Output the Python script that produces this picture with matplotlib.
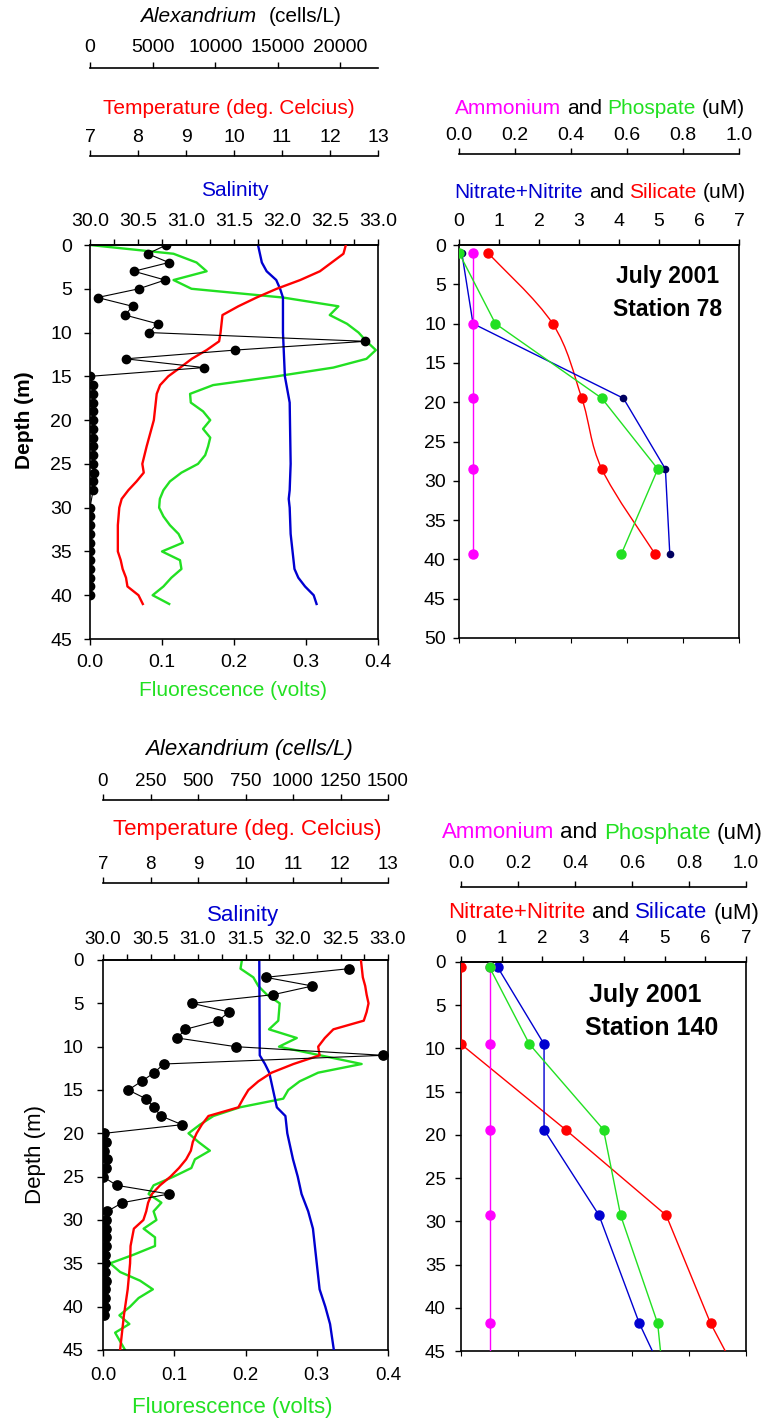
import matplotlib
matplotlib.use("Agg")
import matplotlib.pyplot as plt
import numpy as np
from matplotlib.ticker import AutoMinorLocator, FormatStrFormatter
from matplotlib.offsetbox import TextArea, HPacker, AnnotationBbox
from matplotlib.path import Path
from matplotlib.patches import PathPatch

plt.rcParams['font.family'] = ['Liberation Sans', 'DejaVu Sans']
plt.rcParams['axes.linewidth'] = 1.2

RED = '#ff0000'
GREEN = '#22e022'
BLUE = '#0000d0'
MAGENTA = '#ff00ff'
NAVY = '#000060'

# ---- July 2001, Station 78: CTD profile ----
alex78_depth = list(range(0, 29)) + list(range(30, 41))
alex78 = [6100, 4600, 6300, 3500, 6000, 3900, 600, 3400, 2800, 5400,
          4700, 22000, 11600, 2850, 9100, 0, 200, 200, 200, 250,
          200, 250, 200, 250, 200, 250, 300, 250, 250,
          0, 0, 0, 0, 0, 0, 0, 0, 0, 0, 0]

temp78_depth = [0, 1, 3, 4, 5, 6, 7, 8, 9, 10, 11, 12, 13, 14, 15, 16, 17, 20,
                23, 25, 26, 27, 28, 29, 30, 32, 35, 36, 37, 38, 39, 40, 41]
temp78 = [12.33, 12.28, 11.79, 11.38, 10.89, 10.47, 10.09, 9.76, 9.74, 9.72,
          9.69, 9.43, 9.12, 8.88, 8.63, 8.46, 8.39, 8.33, 8.18, 8.09, 8.12,
          7.97, 7.80, 7.66, 7.61, 7.58, 7.58, 7.64, 7.68, 7.75, 7.78, 8.01, 8.10]

fluor78_depth = list(range(0, 42))
fluor78 = [0.0, 0.116, 0.148, 0.162, 0.116, 0.141, 0.268, 0.345, 0.333, 0.357,
           0.373, 0.384, 0.397, 0.384, 0.338, 0.259, 0.171, 0.139, 0.140, 0.157,
           0.167, 0.157, 0.167, 0.164, 0.160, 0.150, 0.127, 0.111, 0.102, 0.097,
           0.096, 0.102, 0.111, 0.123, 0.129, 0.100, 0.125, 0.127, 0.113, 0.102,
           0.087, 0.110]

sal78_depth = [0, 2, 3, 4, 5, 6, 10, 15, 18, 25, 28, 29, 30, 33, 36, 37, 38, 39, 40, 41]
sal78 = [31.75, 31.79, 31.84, 31.94, 31.98, 32.01, 32.01, 32.03, 32.08, 32.09,
         32.08, 32.07, 32.08, 32.09, 32.12, 32.13, 32.17, 32.24, 32.33, 32.36]

# ---- July 2001, Station 78: nutrients ----
nut78_depth = [1, 10, 19.5, 28.5, 39.3]
ammonium78 = [0.05, 0.05, 0.05, 0.05, 0.05]
phosphate78 = [0.0, 0.13, 0.51, 0.71, 0.58]
nitrate78 = [0.07, 0.35, 4.11, 5.16, 5.27]
silicate78 = [0.72, 2.34, 3.07, 3.57, 4.90]

# ---- July 2001, Station 140: CTD profile ----
alex140_depth = list(range(1, 42))
alex140 = [1295, 856, 1102, 896, 470, 663, 607, 433, 391, 698,
           1475, 319, 270, 203, 133, 225, 268, 305, 416, 7,
           16, 5, 23, 16, 0, 72, 347, 102, 23,
           15, 15, 15, 15, 10, 10, 10, 15, 10, 10, 10, 5]

temp140_depth = [0, 1, 2, 3, 4, 5, 6, 7, 8, 9, 10, 11, 12, 13, 14, 15, 16, 17, 18,
                 19, 20, 21, 22, 23, 24, 25, 26, 27, 28, 29, 30, 31, 33, 35, 38, 41, 45]
temp140 = [12.43, 12.45, 12.47, 12.52, 12.55, 12.59, 12.55, 12.49, 11.85, 11.67,
           11.53, 11.56, 11.01, 10.55, 10.27, 10.06, 9.95, 9.85, 9.22, 9.08,
           8.97, 8.89, 8.85, 8.75, 8.60, 8.42, 8.20, 8.03, 7.95, 7.91, 7.85,
           7.65, 7.58, 7.57, 7.52, 7.44, 7.36]

fluor140_depth = list(range(0, 46))
fluor140 = [0.195, 0.193, 0.211, 0.218, 0.230, 0.248, 0.247, 0.246, 0.233, 0.272,
            0.247, 0.305, 0.363, 0.302, 0.276, 0.260, 0.253, 0.192, 0.155, 0.136,
            0.120, 0.134, 0.150, 0.129, 0.124, 0.099, 0.071, 0.064, 0.082, 0.071,
            0.075, 0.057, 0.073, 0.073, 0.043, 0.010, 0.024, 0.052, 0.070, 0.050,
            0.038, 0.023, 0.037, 0.017, 0.024, 0.031]

sal140_depth = [0, 11, 12, 13, 15, 17, 18, 20, 23, 25, 27, 29, 31, 33, 35, 37, 38, 40, 42, 45]
sal140 = [31.645, 31.65, 31.705, 31.75, 31.79, 31.83, 31.92, 31.94, 32.00, 32.05,
          32.09, 32.16, 32.21, 32.23, 32.25, 32.27, 32.28, 32.34, 32.39, 32.43]

# ---- July 2001, Station 140: nutrients (last entry = where lines leave the plot) ----
nut140_depth = [0.6, 9.5, 19.4, 29.3, 41.8, 45]
ammonium140 = [0.10, 0.10, 0.10, 0.10, 0.10, 0.10]
phosphate140 = [0.10, 0.24, 0.50, 0.56, 0.69, 0.70]
nitrate140 = [0.0, 0.0, 2.57, 5.04, 6.13, 6.49]
silicate140 = [0.90, 2.04, 2.04, 3.39, 4.38, 4.70]
n_sampled140 = 5

W, H = 762, 1418


def fx(px):
    return px / W


def fy(px):
    return 1 - px / H


def box(x0, y0, x1, y1):
    return [fx(x0), fy(y1), fx(x1 - x0), (y1 - y0) / H]


def extra_scale(ax, height_px, line_px_above, xlim, ticks, fmt, size, pad):
    # parasite x-axis drawn as a bare line above the plot box
    t = ax.twiny()
    for s in ('left', 'right', 'bottom'):
        t.spines[s].set_visible(False)
    t.spines['top'].set_position(('axes', 1 + line_px_above / height_px))
    t.set_xlim(*xlim)
    t.set_xticks(ticks)
    t.xaxis.set_major_formatter(FormatStrFormatter(fmt))
    t.tick_params(axis='x', direction='out', length=4, width=1, pad=pad, labelsize=size)
    return t


def smooth_path(xs, ys, xspan, yspan):
    pts = np.column_stack([np.asarray(xs) / xspan, np.asarray(ys) / yspan])
    ext = np.vstack([pts[0], pts, pts[-1]])
    verts, codes = [pts[0]], [Path.MOVETO]
    for i in range(len(pts) - 1):
        p0, p1, p2, p3 = ext[i], ext[i + 1], ext[i + 2], ext[i + 3]
        verts += [p1 + (p2 - p0) / 6, p2 - (p3 - p1) / 6, p2]
        codes += [Path.CURVE4] * 3
    return Path(np.array(verts) * [xspan, yspan], codes)


def packed_title(fig, x, y, parts, size, sep=None):
    # parts: (text, colour, style)
    areas = [TextArea(s, textprops=dict(color=c, size=size, style=st)) for s, c, st in parts]
    pack = HPacker(children=areas, align='baseline', pad=0,
                   sep=size * 0.278 if sep is None else sep)
    fig.add_artist(AnnotationBbox(pack, (x, y), xycoords='figure fraction',
                                  frameon=False, box_alignment=(0.5, 0.5), pad=0))


def ctd_panel(fig, rect_px, alex, temp, fluor, sal, alex_max, alex_ticks,
              tsize, ypad, xpad, spads, msize):
    x0, y0, x1, y1 = rect_px
    hpx = y1 - y0
    ax = fig.add_axes(box(x0, y0, x1, y1))
    ax.set_ylim(45, 0)
    ax.set_yticks(range(0, 46, 5))
    ax.set_xlim(0, 0.4)
    ax.set_xticks([0, 0.1, 0.2, 0.3, 0.4])
    ax.xaxis.set_major_formatter(FormatStrFormatter('%.1f'))
    ax.tick_params(axis='both', direction='out', length=4, width=1, labelsize=tsize)
    ax.tick_params(axis='y', pad=ypad, right=False)
    ax.tick_params(axis='x', pad=xpad, top=False)
    ax.plot(fluor[1], fluor[0], color=GREEN, lw=1.7)

    s = ax.twiny()
    for sp in ('left', 'right', 'bottom'):
        s.spines[sp].set_visible(False)
    s.set_xlim(30, 33)
    s.set_xticks(np.arange(30, 33.01, 0.5))
    s.xaxis.set_minor_locator(AutoMinorLocator(2))
    s.xaxis.set_major_formatter(FormatStrFormatter('%.1f'))
    s.tick_params(axis='x', which='both', direction='out', length=4, width=1,
                  pad=spads[0], labelsize=tsize)
    s.plot(sal[1], sal[0], color=BLUE, lw=1.7)

    t = extra_scale(ax, hpx, spads[1], (7, 13), range(7, 14), '%d', tsize, spads[2])
    t.plot(temp[1], temp[0], color=RED, lw=1.7)

    a = extra_scale(ax, hpx, spads[3], (0, alex_max), alex_ticks, '%d', tsize, spads[4])
    a.plot(alex[1], alex[0], color='black', lw=0.8, marker='o', ms=msize,
           markerfacecolor='black', markeredgecolor='black')
    return ax


def nutrient_panel(fig, rect_px, ymax, tsize, ypad, npad, amm_above, apad):
    x0, y0, x1, y1 = rect_px
    ax = fig.add_axes(box(x0, y0, x1, y1))
    ax.set_ylim(ymax, 0)
    ax.set_yticks(range(0, ymax + 1, 5))
    ax.tick_params(axis='y', direction='out', length=4, width=1, pad=ypad,
                   labelsize=tsize, right=False)
    ax.tick_params(axis='x', bottom=False, labelbottom=False, top=False, labeltop=False)

    n = ax.twiny()
    for sp in ('left', 'right', 'bottom'):
        n.spines[sp].set_visible(False)
    n.set_xlim(0, 7)
    n.set_xticks(range(0, 8))
    n.tick_params(axis='x', direction='out', length=4, width=1, pad=npad, labelsize=tsize)

    am = extra_scale(ax, y1 - y0, amm_above, (0, 1), np.arange(0, 1.01, 0.2),
                     '%.1f', tsize, apad)
    return ax, n, am


fig = plt.figure(figsize=(W / 100, H / 100), dpi=100)

# ===== Station 78 =====
ctd_panel(fig, (90, 245, 378, 639),
          (alex78_depth, alex78), (temp78_depth, temp78),
          (fluor78_depth, fluor78), (sal78_depth, sal78),
          23000, range(0, 20001, 5000), 14, 9, 7, (6.5, 89, 3.5, 177, 4.5), 6)

packed_title(fig, fx(241), fy(17), [('Alexandrium', 'black', 'italic'),
                                    ('(cells/L)', 'black', 'normal')], 15, sep=9)
fig.text(fx(229), fy(108), 'Temperature (deg. Celcius)', color=RED, ha='center', va='center', size=15)
fig.text(fx(235), fy(190), 'Salinity', color=BLUE, ha='center', va='center', size=15)
fig.text(fx(233), fy(690), 'Fluorescence (volts)', color=GREEN, ha='center', va='center', size=15)
fig.text(fx(25), fy(420), 'Depth (m)', rotation=90, ha='center', va='center',
         size=15, weight='bold')

ax, n, am = nutrient_panel(fig, (459, 245, 739, 638), 50, 14, 5.5, 6.5, 91, 3.5)
n.plot(nitrate78, nut78_depth, color=BLUE, lw=1, marker='o', ms=4.5,
       markerfacecolor=NAVY, markeredgecolor=NAVY)
n.add_patch(PathPatch(smooth_path(silicate78, nut78_depth, 7, 50), fill=False,
                      edgecolor=RED, lw=1))
n.plot(silicate78, nut78_depth, ls='none', marker='o', ms=6.5, color=RED)
am.plot(ammonium78, nut78_depth, color=MAGENTA, lw=1, marker='o', ms=6.5)
am.plot(phosphate78, nut78_depth, color=GREEN, lw=1, marker='o', ms=6.5)

packed_title(fig, fx(600), fy(108), [('Ammonium', MAGENTA, 'normal'), ('and', 'black', 'normal'),
                                     ('Phospate', GREEN, 'normal'), ('(uM)', 'black', 'normal')], 15)
packed_title(fig, fx(600), fy(193), [('Nitrate+Nitrite', BLUE, 'normal'), ('and', 'black', 'normal'),
                                     ('Silicate', RED, 'normal'), ('(uM)', 'black', 'normal')], 15)
fig.text(fx(668), fy(277), 'July 2001', ha='center', va='center', size=16.5, weight='bold')
fig.text(fx(668), fy(309), 'Station 78', ha='center', va='center', size=16.5, weight='bold')

# ===== Station 140 =====
ctd_panel(fig, (103, 960, 388, 1350),
          (alex140_depth, alex140), (temp140_depth, temp140),
          (fluor140_depth, fluor140), (sal140_depth, sal140),
          1500, range(0, 1501, 250), 13.5, 10, 8.5, (4.5, 77, 3.5, 160, 3.5), 6.7)

fig.text(fx(249), fy(750), 'Alexandrium (cells/L)', ha='center', va='center', size=16, style='italic')
fig.text(fx(247), fy(830), 'Temperature (deg. Celcius)', color=RED, ha='center', va='center', size=16)
fig.text(fx(243), fy(915), 'Salinity', color=BLUE, ha='center', va='center', size=16)
fig.text(fx(232), fy(1407), 'Fluorescence (volts)', color=GREEN, ha='center', va='center', size=16)
fig.text(fx(35), fy(1154), 'Depth (m)', rotation=90, ha='center', va='center', size=16)

ax, n, am = nutrient_panel(fig, (461, 962, 746, 1351), 45, 13.5, 7, 6.5, 75, 6.5)
n.plot(nitrate140, nut140_depth, color=RED, lw=1, marker='o', ms=6.5,
       markevery=slice(0, n_sampled140))
n.plot(silicate140, nut140_depth, color=BLUE, lw=1, marker='o', ms=6.5,
       markevery=slice(0, n_sampled140))
am.plot(ammonium140, nut140_depth, color=MAGENTA, lw=1, marker='o', ms=6.5,
        markevery=slice(0, n_sampled140))
am.plot(phosphate140, nut140_depth, color=GREEN, lw=1, marker='o', ms=6.5,
        markevery=slice(0, n_sampled140))

packed_title(fig, fx(602), fy(833), [('Ammonium', MAGENTA, 'normal'), ('and', 'black', 'normal'),
                                     ('Phosphate', GREEN, 'normal'), ('(uM)', 'black', 'normal')], 16)
packed_title(fig, fx(604), fy(913), [('Nitrate+Nitrite', RED, 'normal'), ('and', 'black', 'normal'),
                                     ('Silicate', BLUE, 'normal'), ('(uM)', 'black', 'normal')], 16)
fig.text(fx(645), fy(995), 'July 2001', ha='center', va='center', size=18, weight='bold')
fig.text(fx(652), fy(1028), 'Station 140', ha='center', va='center', size=18, weight='bold')

fig.savefig('out.png', dpi=100)
